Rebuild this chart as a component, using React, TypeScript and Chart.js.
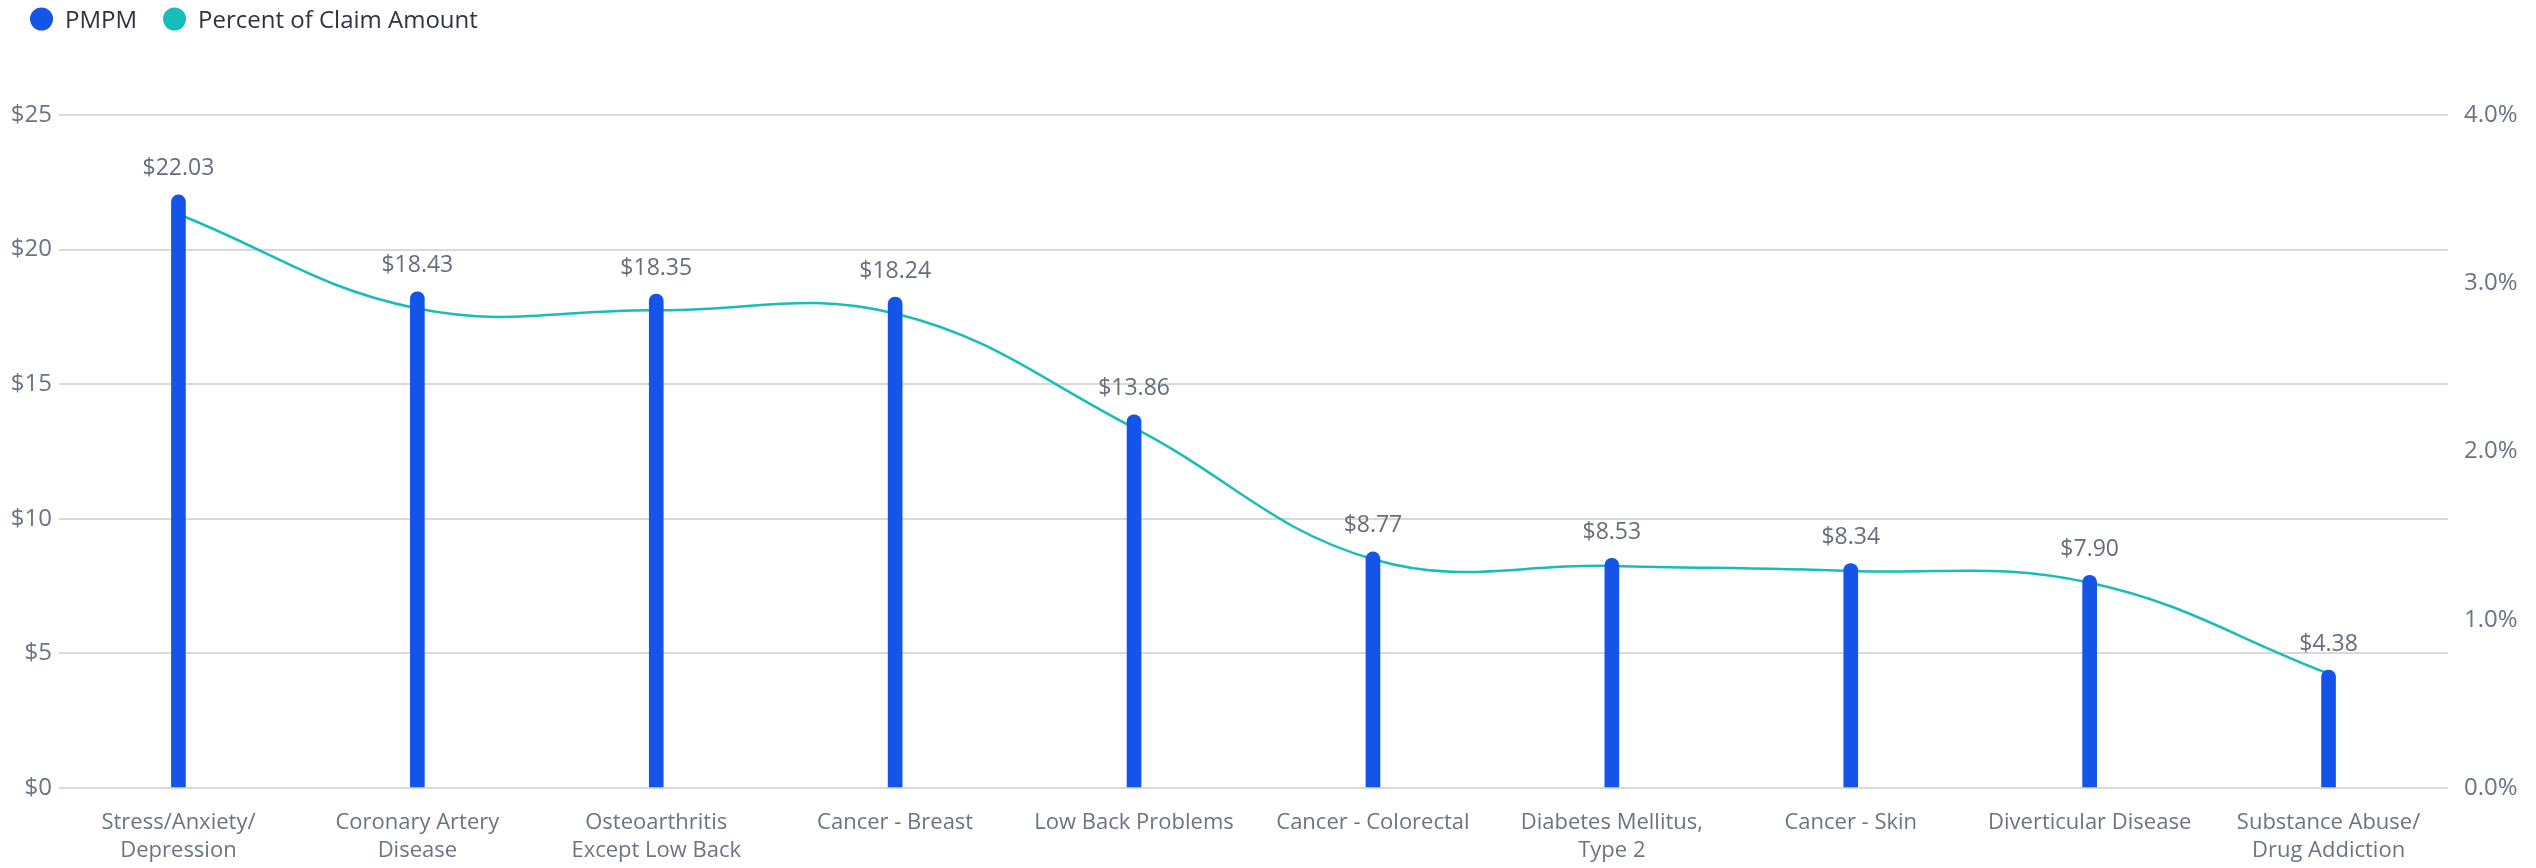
import React, { useEffect, useRef } from "react";
import { Chart, registerables } from "chart.js";

Chart.register(...registerables);

const categories: (string | string[])[] = [
  ["Stress/Anxiety/", "Depression"],
  ["Coronary Artery", "Disease"],
  ["Osteoarthritis", "Except Low Back"],
  "Cancer - Breast",
  "Low Back Problems",
  "Cancer - Colorectal",
  ["Diabetes Mellitus,", "Type 2"],
  "Cancer - Skin",
  "Diverticular Disease",
  ["Substance Abuse/", "Drug Addiction"],
];

const pmpmValues = [22.03, 18.43, 18.35, 18.24, 13.86, 8.77, 8.53, 8.34, 7.9, 4.38];
const percentValues = [3.41, 2.85, 2.84, 2.82, 2.14, 1.36, 1.32, 1.29, 1.22, 0.68];

const seriesNames = ["PMPM", "Percent of Claim Amount"];
const seriesColors = ["#1554E8", "#17BDB9"];

const FONT = "'Open Sans', 'Noto Sans', sans-serif";
const TICK_COLOR = "#6B7480";

const legendPlugin = {
  id: "customLegend",
  afterDraw(chart: any) {
    const ctx = chart.ctx;
    ctx.save();
    ctx.font = `24px ${FONT}`;
    ctx.textBaseline = "middle";
    ctx.textAlign = "left";
    let x = 30;
    const cy = 19;
    const r = 11.5;
    chart.data.datasets.forEach((ds: any, i: number) => {
      ctx.fillStyle = seriesColors[i];
      ctx.beginPath();
      ctx.arc(x + r, cy, r, 0, Math.PI * 2);
      ctx.fill();
      const tx = x + 2 * r + 12;
      ctx.fillStyle = "#2E3244";
      ctx.fillText(ds.label, tx, cy + 2);
      const w = ctx.measureText(ds.label).width;
      x = tx + w + 26;
    });
    ctx.restore();
  },
};

const dataLabelPlugin = {
  id: "barValueLabels",
  afterDatasetsDraw(chart: any) {
    const ctx = chart.ctx;
    const meta = chart.getDatasetMeta(0);
    ctx.save();
    ctx.font = `23px ${FONT}`;
    ctx.fillStyle = "#666E7A";
    ctx.textAlign = "center";
    ctx.textBaseline = "middle";
    meta.data.forEach((el: any, i: number) => {
      ctx.fillText("$" + pmpmValues[i].toFixed(2), el.x, el.y - 26);
    });
    ctx.restore();
  },
};

export default function App() {
  const canvasRef = useRef<HTMLCanvasElement | null>(null);

  useEffect(() => {
    if (!canvasRef.current) return;
    Chart.defaults.font.family = FONT;
    const chart = new Chart(canvasRef.current, {
      type: "bar",
      data: {
        labels: categories as any,
        datasets: [
          {
            type: "bar",
            label: seriesNames[0],
            data: pmpmValues,
            backgroundColor: seriesColors[0],
            barThickness: 14,
            borderRadius: 7,
            borderSkipped: "bottom",
            yAxisID: "y",
            order: 0,
          } as any,
          {
            type: "line",
            label: seriesNames[1],
            data: percentValues,
            borderColor: seriesColors[1],
            backgroundColor: seriesColors[1],
            borderWidth: 2.5,
            pointRadius: 0,
            tension: 0.4,
            yAxisID: "y1",
            order: 1,
          } as any,
        ],
      },
      options: {
        animation: false,
        responsive: true,
        maintainAspectRatio: false,
        layout: { padding: { top: 115, left: 0, right: 0, bottom: 0 } },
        plugins: {
          legend: { display: false },
          tooltip: { enabled: false },
        },
        scales: {
          x: {
            grid: { display: false, drawTicks: false },
            border: { display: false },
            ticks: {
              color: TICK_COLOR,
              font: { size: 22, family: FONT, lineHeight: 1.3 },
              padding: 20,
              maxRotation: 0,
              autoSkip: false,
            },
            afterFit(scale: any) {
              scale.height = 80;
            },
          },
          y: {
            position: "left",
            min: 0,
            max: 25,
            ticks: {
              stepSize: 5,
              color: TICK_COLOR,
              font: { size: 24, family: FONT },
              padding: 7,
              callback: (v: any) => "$" + v,
            },
            grid: { color: "#D9D9D9", lineWidth: 2, drawTicks: false },
            border: { display: false },
            afterFit(scale: any) {
              scale.width = 59;
            },
          },
          y1: {
            position: "right",
            min: 0,
            max: 4,
            ticks: {
              stepSize: 1,
              color: TICK_COLOR,
              font: { size: 24, family: FONT },
              padding: 16,
              callback: (v: any) => Number(v).toFixed(1) + "%",
            },
            grid: { display: false, drawTicks: false },
            border: { display: false },
            afterFit(scale: any) {
              scale.width = 88;
            },
          },
        },
      } as any,
      plugins: [legendPlugin, dataLabelPlugin],
    });
    return () => chart.destroy();
  }, []);

  return (
    <div
      style={{
        position: "fixed",
        left: 0,
        top: 0,
        width: 2536,
        height: 868,
        background: "#ffffff",
      }}
    >
      <canvas ref={canvasRef} />
    </div>
  );
}
